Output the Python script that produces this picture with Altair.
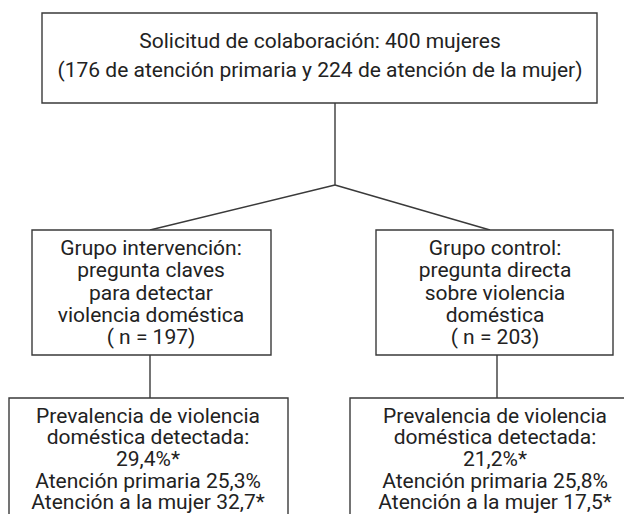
import altair as alt
import pandas as pd

# ---- content ----
top_lines = ["Solicitud de colaboración: 400 mujeres",
             "(176 de atención primaria y 224 de atención de la mujer)"]
left_mid_lines = ["Grupo intervención:", "pregunta claves", "para detectar",
                  "violencia doméstica", "( n = 197)"]
right_mid_lines = ["Grupo control:", "pregunta directa", "sobre violencia",
                   "doméstica", "( n = 203)"]
left_bot_lines = ["Prevalencia de violencia", "doméstica detectada:", "29,4%*",
                  "Atención primaria 25,3%", "Atención a la mujer 32,7*"]
right_bot_lines = ["Prevalencia de violencia", "doméstica detectada:", "21,2%*",
                   "Atención primaria 25,8%", "Atención a la mujer 17,5*"]

# ---- layout (page pixel coordinates) ----
boxes = pd.DataFrame([
    dict(x=42, x2=597, y=13, y2=103),
    dict(x=32, x2=271, y=230, y2=355),
    dict(x=376, x2=613, y=230, y2=355),
    dict(x=9, x2=288, y=398, y2=560),
    dict(x=350, x2=680, y=398, y2=560),
])
links = pd.DataFrame([
    dict(x=335, y=103, x2=335, y2=185),
    dict(x=335, y=185, x2=150, y2=230),
    dict(x=335, y=185, x2=490, y2=230),
    dict(x=150, y=355, x2=150, y2=398),
    dict(x=497, y=355, x2=497, y2=398),
])
blocks = [
    (top_lines, 320, 42, 29),
    (left_mid_lines, 151, 249, 22.3),
    (right_mid_lines, 495, 249, 22.3),
    (left_bot_lines, 148, 416.5, 21.7),
    (right_bot_lines, 495, 416.5, 21.7),
]
rows = []
for lines, cx, y0, dy in blocks:
    for i, t in enumerate(lines):
        rows.append(dict(x=cx, y=y0 + i * dy, text=t))
texts = pd.DataFrame(rows)

W, H = 616, 506
xs = alt.Scale(domain=[8, 8 + W], nice=False, zero=False)
ys = alt.Scale(domain=[8 + H, 8], nice=False, zero=False)
LINE = "#3a3a3a"

rect = alt.Chart(boxes).mark_rect(fill="white", stroke=LINE, strokeWidth=1.4).encode(
    x=alt.X("x:Q", scale=xs, axis=None), x2="x2:Q",
    y=alt.Y("y:Q", scale=ys, axis=None), y2="y2:Q")
rule = alt.Chart(links).mark_rule(color=LINE, strokeWidth=1.4).encode(
    x=alt.X("x:Q", scale=xs, axis=None), x2="x2:Q",
    y=alt.Y("y:Q", scale=ys, axis=None), y2="y2:Q")
txt = alt.Chart(texts).mark_text(font="Roboto", fontSize=21, color="#222222",
                                 baseline="middle", align="center").encode(
    x=alt.X("x:Q", scale=xs, axis=None),
    y=alt.Y("y:Q", scale=ys, axis=None),
    text="text:N")

chart = alt.layer(rule, rect, txt).properties(
    width=W, height=H, padding=0, autosize=alt.AutoSizeParams(type="none")
).configure_view(stroke=None)

chart.save("out.html", embed_options={"renderer": "svg", "actions": False})
